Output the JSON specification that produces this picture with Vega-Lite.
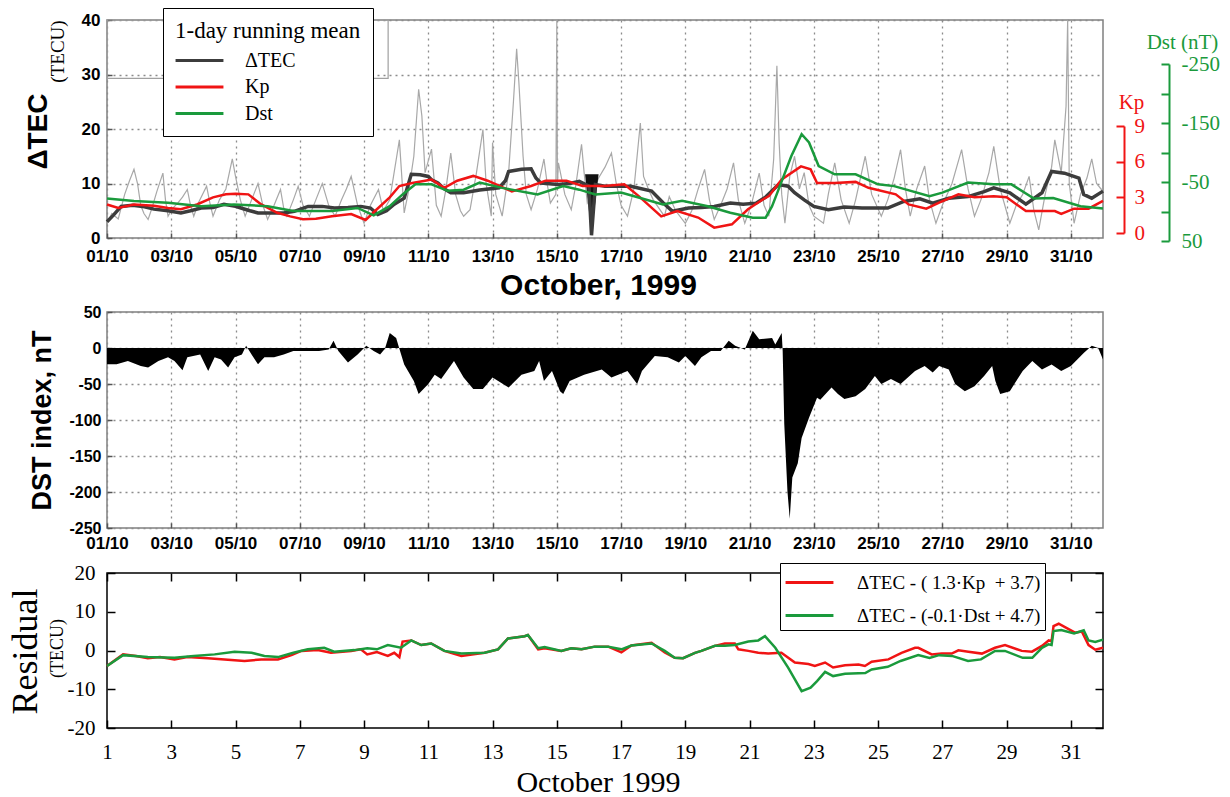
{
  "$schema": "https://vega.github.io/schema/vega-lite/v6.json",
  "background": "white",
  "padding": {"left": 6, "top": 6, "right": 4, "bottom": 2},
  "config": {
    "view": {"stroke": "#808080", "strokeWidth": 1.5, "fill": "white"},
    "axis": {"grid": false, "domain": false, "labelFlush": false, "labelOverlap": false, "labelBound": false, "labelColor": "black", "titleColor": "black", "tickColor": "#555555", "tickWidth": 1.5, "labelFont": "Liberation Sans", "labelFontWeight": "bold", "labelFontSize": 17, "titleFont": "Liberation Sans", "titleFontWeight": "bold", "gridColor": "#8c8c8c", "gridDash": [2, 4], "gridWidth": 1.3}
  },
  "datasets": {
    "box": [{"d": 1, "d2": 9.75, "v": 29.3, "v2": 40}],
    "tri": [{"d": 15.88, "top": 11.7, "bot": 11.7}, {"d": 16.08, "top": 11.7, "bot": 0.4}, {"d": 16.3, "top": 11.7, "bot": 11.7}],
    "hourly": [
      {"d":1.0,"v":2.7},{"d":1.15,"v":4.5},{"d":1.35,"v":3.5},{"d":1.55,"v":8.0},{"d":1.7,"v":10.5},{"d":1.84,"v":12.6},{"d":1.95,"v":10},{"d":2.05,"v":6},{"d":2.15,"v":4.5},{"d":2.28,"v":3.4},{"d":2.4,"v":5.5},{"d":2.55,"v":8.5},{"d":2.74,"v":11.9},{"d":2.82,"v":7},{"d":2.9,"v":4.0},{"d":3.05,"v":5.5},{"d":3.2,"v":6.4},{"d":3.35,"v":7.5},{"d":3.5,"v":8.9},{"d":3.6,"v":6},{"d":3.7,"v":4.0},{"d":3.85,"v":6.5},{"d":4.1,"v":9.5},{"d":4.2,"v":6.5},{"d":4.3,"v":4.0},{"d":4.5,"v":7},{"d":4.7,"v":9},{"d":4.9,"v":14.5},{"d":5.0,"v":11.3},{"d":5.15,"v":7},{"d":5.3,"v":4.0},{"d":5.5,"v":7},{"d":5.7,"v":10},{"d":5.85,"v":6},{"d":6.0,"v":3.4},{"d":6.2,"v":6},{"d":6.4,"v":8.9},{"d":6.5,"v":5.5},{"d":6.6,"v":4.0},{"d":6.8,"v":7},{"d":6.95,"v":9.5},{"d":7.1,"v":6},{"d":7.3,"v":4.0},{"d":7.5,"v":7},{"d":7.7,"v":10},{"d":7.9,"v":6},{"d":8.1,"v":4.0},{"d":8.3,"v":7},{"d":8.45,"v":9},{"d":8.6,"v":11.3},{"d":8.8,"v":6},{"d":9.0,"v":2.7},{"d":9.2,"v":6},{"d":9.45,"v":8.9},{"d":9.6,"v":5},{"d":9.8,"v":7},{"d":10.1,"v":18},{"d":10.25,"v":4.6},{"d":10.4,"v":9},{"d":10.55,"v":15},{"d":10.7,"v":27.3},{"d":10.8,"v":22.4},{"d":10.9,"v":12},{"d":11.1,"v":16.3},{"d":11.25,"v":6},{"d":11.4,"v":4.0},{"d":11.55,"v":9},{"d":11.7,"v":15.6},{"d":11.85,"v":8},{"d":12.0,"v":5},{"d":12.1,"v":4.0},{"d":12.3,"v":5.2},{"d":12.5,"v":12},{"d":12.7,"v":19.9},{"d":12.8,"v":10},{"d":12.96,"v":4.0},{"d":13.0,"v":17.5},{"d":13.1,"v":8},{"d":13.3,"v":4.0},{"d":13.5,"v":12},{"d":13.65,"v":25},{"d":13.75,"v":34.7},{"d":13.82,"v":28.5},{"d":13.95,"v":15},{"d":14.05,"v":8},{"d":14.2,"v":5.2},{"d":14.4,"v":9},{"d":14.6,"v":14.5},{"d":14.7,"v":10},{"d":14.8,"v":6.4},{"d":14.97,"v":8},{"d":15.0,"v":40},{"d":15.02,"v":10},{"d":15.05,"v":13.8},{"d":15.25,"v":8},{"d":15.45,"v":5.2},{"d":15.6,"v":10},{"d":15.77,"v":17.2},{"d":15.85,"v":12},{"d":15.95,"v":6.4},{"d":16.1,"v":8},{"d":16.3,"v":11},{"d":16.5,"v":13},{"d":16.7,"v":15.6},{"d":16.85,"v":10},{"d":17.0,"v":6},{"d":17.2,"v":4.0},{"d":17.4,"v":9},{"d":17.6,"v":21.1},{"d":17.7,"v":11.3},{"d":17.85,"v":9},{"d":18.0,"v":7},{"d":18.35,"v":4.0},{"d":18.5,"v":7.6},{"d":18.7,"v":5},{"d":19.0,"v":2.7},{"d":19.2,"v":5},{"d":19.4,"v":9},{"d":19.6,"v":12.6},{"d":19.75,"v":7},{"d":19.9,"v":3.4},{"d":20.1,"v":6},{"d":20.3,"v":9},{"d":20.5,"v":13.8},{"d":20.65,"v":7},{"d":20.85,"v":2.7},{"d":21.05,"v":6},{"d":21.3,"v":11.9},{"d":21.45,"v":6},{"d":21.6,"v":4.0},{"d":21.75,"v":14.5},{"d":21.85,"v":31.6},{"d":21.92,"v":17.5},{"d":22.0,"v":8},{"d":22.1,"v":2.7},{"d":22.25,"v":11.3},{"d":22.4,"v":15},{"d":22.55,"v":9},{"d":22.7,"v":12},{"d":22.85,"v":6},{"d":23.0,"v":4.0},{"d":23.3,"v":2.7},{"d":23.45,"v":8},{"d":23.65,"v":13.8},{"d":23.85,"v":7},{"d":24.1,"v":2.7},{"d":24.3,"v":7},{"d":24.6,"v":15},{"d":24.8,"v":8},{"d":25.1,"v":4.0},{"d":25.3,"v":7},{"d":25.5,"v":11},{"d":25.7,"v":16.2},{"d":25.85,"v":9},{"d":26.0,"v":4.0},{"d":26.2,"v":9},{"d":26.45,"v":13.2},{"d":26.6,"v":7},{"d":26.8,"v":2.7},{"d":27.0,"v":6},{"d":27.3,"v":10},{"d":27.6,"v":16.2},{"d":27.8,"v":9},{"d":28.0,"v":4.0},{"d":28.2,"v":7},{"d":28.45,"v":12},{"d":28.6,"v":16.8},{"d":28.8,"v":9},{"d":29.1,"v":2.7},{"d":29.3,"v":6},{"d":29.5,"v":8},{"d":29.7,"v":11.3},{"d":29.85,"v":5},{"d":30.0,"v":1.5},{"d":30.2,"v":8},{"d":30.4,"v":13},{"d":30.5,"v":18},{"d":30.7,"v":12},{"d":30.85,"v":24.2},{"d":30.9,"v":40},{"d":30.95,"v":10},{"d":31.1,"v":2.7},{"d":31.3,"v":8},{"d":31.5,"v":11},{"d":31.65,"v":14.5},{"d":31.8,"v":10},{"d":31.95,"v":8.9},{"d":32.0,"v":9}
    ],
    "tecm": [
      {"d":1.0,"v":3.0},{"d":1.2,"v":4.2},{"d":1.44,"v":5.8},{"d":1.8,"v":6.0},{"d":2.1,"v":5.8},{"d":2.46,"v":5.3},{"d":2.9,"v":5.0},{"d":3.3,"v":4.6},{"d":3.6,"v":5.0},{"d":3.93,"v":5.5},{"d":4.3,"v":5.6},{"d":4.64,"v":6.2},{"d":5.0,"v":5.8},{"d":5.17,"v":5.5},{"d":5.45,"v":5.0},{"d":5.7,"v":4.6},{"d":6.2,"v":4.6},{"d":6.5,"v":4.6},{"d":6.83,"v":4.9},{"d":7.26,"v":5.8},{"d":7.7,"v":5.8},{"d":8.08,"v":5.5},{"d":8.5,"v":5.6},{"d":8.9,"v":5.8},{"d":9.2,"v":5.5},{"d":9.43,"v":4.3},{"d":9.7,"v":5.0},{"d":9.94,"v":6.2},{"d":10.25,"v":7.3},{"d":10.47,"v":11.7},{"d":10.75,"v":11.6},{"d":11.0,"v":11.3},{"d":11.1,"v":10.7},{"d":11.3,"v":10.1},{"d":11.5,"v":9.0},{"d":11.7,"v":8.3},{"d":12.1,"v":8.3},{"d":12.6,"v":8.8},{"d":13.2,"v":9.2},{"d":13.4,"v":10.5},{"d":13.5,"v":12.2},{"d":13.9,"v":12.6},{"d":14.2,"v":12.7},{"d":14.35,"v":11},{"d":14.5,"v":10.1},{"d":15.05,"v":9.8},{"d":15.4,"v":10.0},{"d":15.7,"v":10.4},{"d":15.9,"v":9.8},{"d":16.0,"v":9.5},{"d":16.08,"v":0.5},{"d":16.2,"v":9.8},{"d":16.5,"v":9.5},{"d":17.3,"v":9.5},{"d":17.95,"v":8.6},{"d":18.3,"v":6.5},{"d":18.6,"v":4.9},{"d":19.1,"v":5.5},{"d":19.5,"v":5.6},{"d":19.9,"v":5.8},{"d":20.4,"v":6.4},{"d":20.8,"v":6.2},{"d":21.2,"v":6.4},{"d":21.5,"v":7.5},{"d":21.9,"v":9.8},{"d":22.2,"v":9.5},{"d":22.4,"v":8.3},{"d":22.7,"v":7.0},{"d":23.0,"v":5.8},{"d":23.45,"v":5.2},{"d":23.95,"v":5.7},{"d":24.5,"v":5.5},{"d":25.3,"v":5.5},{"d":25.8,"v":6.7},{"d":26.3,"v":7.2},{"d":26.7,"v":6.4},{"d":27.2,"v":7.3},{"d":27.8,"v":7.6},{"d":28.3,"v":8.5},{"d":28.6,"v":9.2},{"d":29.1,"v":8.3},{"d":29.6,"v":6.2},{"d":30.1,"v":8.3},{"d":30.4,"v":12.2},{"d":30.8,"v":11.9},{"d":31.25,"v":11.0},{"d":31.4,"v":8.0},{"d":31.65,"v":7.3},{"d":32.0,"v":8.6}
    ],
    "kp": [
      {"d":1.0,"v":2.4},{"d":1.35,"v":2.1},{"d":1.84,"v":2.4},{"d":2.46,"v":2.3},{"d":2.9,"v":2.1},{"d":3.3,"v":2.0},{"d":3.8,"v":2.4},{"d":4.3,"v":3.0},{"d":4.7,"v":3.25},{"d":5.0,"v":3.3},{"d":5.4,"v":3.25},{"d":5.8,"v":2.4},{"d":6.3,"v":1.7},{"d":6.7,"v":1.4},{"d":7.1,"v":1.15},{"d":7.5,"v":1.2},{"d":8.0,"v":1.4},{"d":8.6,"v":1.6},{"d":9.05,"v":1.1},{"d":9.4,"v":2.0},{"d":9.8,"v":3.0},{"d":10.1,"v":3.95},{"d":10.5,"v":4.2},{"d":10.9,"v":4.4},{"d":11.1,"v":4.5},{"d":11.5,"v":3.8},{"d":11.9,"v":4.4},{"d":12.4,"v":4.8},{"d":12.85,"v":4.4},{"d":13.6,"v":3.5},{"d":14.2,"v":3.95},{"d":14.65,"v":4.4},{"d":15.3,"v":4.4},{"d":15.8,"v":3.95},{"d":16.5,"v":3.95},{"d":17.1,"v":4.1},{"d":17.55,"v":3.1},{"d":18.25,"v":1.4},{"d":18.75,"v":1.85},{"d":19.4,"v":1.3},{"d":19.9,"v":0.45},{"d":20.45,"v":0.73},{"d":20.95,"v":2.0},{"d":21.4,"v":2.8},{"d":21.6,"v":3.1},{"d":22.0,"v":4.5},{"d":22.6,"v":5.6},{"d":22.9,"v":5.35},{"d":23.1,"v":4.2},{"d":23.65,"v":4.2},{"d":24.3,"v":4.3},{"d":24.7,"v":3.8},{"d":25.55,"v":3.25},{"d":25.95,"v":2.4},{"d":26.5,"v":2.05},{"d":26.9,"v":2.55},{"d":27.5,"v":3.25},{"d":28.0,"v":3.0},{"d":28.6,"v":3.1},{"d":29.0,"v":3.0},{"d":29.6,"v":1.85},{"d":30.5,"v":1.85},{"d":30.7,"v":1.6},{"d":31.1,"v":2.05},{"d":31.55,"v":2.05},{"d":32.0,"v":2.7}
    ],
    "dstm": [
      {"d":1.0,"v":-22},{"d":1.84,"v":-18},{"d":2.9,"v":-15},{"d":3.93,"v":-9},{"d":4.95,"v":-12},{"d":6.0,"v":-9},{"d":6.8,"v":-1},{"d":8.0,"v":-1},{"d":8.8,"v":-6},{"d":9.3,"v":6.5},{"d":9.8,"v":-9},{"d":10.2,"v":-29},{"d":10.6,"v":-46},{"d":11.1,"v":-46},{"d":11.6,"v":-35},{"d":12.1,"v":-37},{"d":12.6,"v":-49},{"d":13.3,"v":-40},{"d":14.4,"v":-29},{"d":15.2,"v":-43},{"d":15.7,"v":-37},{"d":16.2,"v":-29},{"d":17.0,"v":-32},{"d":17.6,"v":-23},{"d":18.3,"v":-12},{"d":18.9,"v":-18},{"d":19.7,"v":-9},{"d":20.4,"v":2},{"d":21.1,"v":10.5},{"d":21.5,"v":10.5},{"d":21.7,"v":-9},{"d":21.9,"v":-37},{"d":22.3,"v":-94},{"d":22.62,"v":-131},{"d":22.85,"v":-117},{"d":23.15,"v":-77},{"d":23.65,"v":-63},{"d":24.3,"v":-63},{"d":25.0,"v":-46},{"d":25.5,"v":-43},{"d":26.6,"v":-26},{"d":27.0,"v":-32},{"d":27.8,"v":-49},{"d":28.6,"v":-46},{"d":29.15,"v":-46},{"d":29.85,"v":-22},{"d":30.45,"v":-23},{"d":31.3,"v":-9},{"d":32.0,"v":-5}
    ],
    "dsth": [
      {"d":1.0,"v":-22.7},{"d":1.3,"v":-22.7},{"d":1.65,"v":-18},{"d":2.05,"v":-25},{"d":2.28,"v":-27},{"d":2.6,"v":-18},{"d":2.9,"v":-13},{"d":3.1,"v":-18},{"d":3.35,"v":-31},{"d":3.5,"v":-13},{"d":3.9,"v":-9},{"d":4.15,"v":-32},{"d":4.35,"v":-13},{"d":4.55,"v":-16},{"d":4.77,"v":-27},{"d":4.97,"v":-13},{"d":5.2,"v":-9},{"d":5.33,"v":3},{"d":5.5,"v":-9},{"d":5.7,"v":-22.7},{"d":5.9,"v":-13},{"d":6.2,"v":-13},{"d":6.5,"v":-9},{"d":6.8,"v":-4},{"d":7.0,"v":-4},{"d":7.6,"v":-4},{"d":7.9,"v":-2},{"d":8.05,"v":10},{"d":8.2,"v":-4},{"d":8.5,"v":-20},{"d":8.8,"v":-9},{"d":9.07,"v":3},{"d":9.3,"v":-4},{"d":9.5,"v":-9},{"d":9.65,"v":-1},{"d":9.8,"v":21},{"d":10.0,"v":14},{"d":10.1,"v":-1},{"d":10.25,"v":-23},{"d":10.55,"v":-46},{"d":10.7,"v":-64},{"d":11.0,"v":-50},{"d":11.2,"v":-37},{"d":11.4,"v":-43},{"d":11.8,"v":-18},{"d":12.1,"v":-41},{"d":12.4,"v":-57},{"d":12.7,"v":-57},{"d":13.0,"v":-41},{"d":13.5,"v":-55},{"d":13.9,"v":-37},{"d":14.3,"v":-32},{"d":14.45,"v":-18},{"d":14.6,"v":-46},{"d":14.85,"v":-32},{"d":15.1,"v":-60},{"d":15.2,"v":-64},{"d":15.4,"v":-46},{"d":15.85,"v":-37},{"d":16.4,"v":-30},{"d":16.7,"v":-41},{"d":17.2,"v":-32},{"d":17.5,"v":-50},{"d":17.65,"v":-32},{"d":18.05,"v":-11},{"d":18.45,"v":-13},{"d":18.8,"v":-20},{"d":19.0,"v":-11},{"d":19.3,"v":-25},{"d":19.5,"v":-13},{"d":19.8,"v":-4},{"d":20.1,"v":-4},{"d":20.35,"v":10},{"d":20.55,"v":3},{"d":20.85,"v":-2},{"d":21.1,"v":24},{"d":21.3,"v":12},{"d":21.7,"v":14},{"d":21.8,"v":5},{"d":22.0,"v":21},{"d":22.03,"v":-4},{"d":22.08,"v":-106},{"d":22.18,"v":-200},{"d":22.25,"v":-237},{"d":22.33,"v":-180},{"d":22.5,"v":-160},{"d":22.62,"v":-125},{"d":22.85,"v":-97},{"d":23.1,"v":-69},{"d":23.2,"v":-72},{"d":23.55,"v":-55},{"d":23.75,"v":-64},{"d":23.95,"v":-71},{"d":24.3,"v":-67},{"d":24.6,"v":-57},{"d":24.9,"v":-39},{"d":25.1,"v":-50},{"d":25.4,"v":-43},{"d":25.7,"v":-50},{"d":26.15,"v":-32},{"d":26.45,"v":-25},{"d":26.7,"v":-34},{"d":26.9,"v":-25},{"d":27.2,"v":-30},{"d":27.4,"v":-50},{"d":27.7,"v":-60},{"d":28.0,"v":-53},{"d":28.3,"v":-39},{"d":28.55,"v":-25},{"d":28.65,"v":-46},{"d":28.8,"v":-64},{"d":29.1,"v":-60},{"d":29.3,"v":-46},{"d":29.5,"v":-32},{"d":29.8,"v":-18},{"d":30.1,"v":-30},{"d":30.4,"v":-23},{"d":30.7,"v":-32},{"d":31.0,"v":-25},{"d":31.2,"v":-16},{"d":31.4,"v":-7},{"d":31.65,"v":3},{"d":31.85,"v":0},{"d":32.0,"v":-16}
    ],
    "resid": [
      {"s":"kp","d":1.0,"v":-4.0},{"s":"kp","d":1.5,"v":-1.0},{"s":"kp","d":1.9,"v":-1.4},{"s":"kp","d":2.27,"v":-2.0},{"s":"kp","d":2.65,"v":-1.7},{"s":"kp","d":3.1,"v":-2.3},{"s":"kp","d":3.5,"v":-1.7},{"s":"kp","d":4.14,"v":-2.0},{"s":"kp","d":4.97,"v":-2.5},{"s":"kp","d":5.28,"v":-2.7},{"s":"kp","d":5.8,"v":-2.3},{"s":"kp","d":6.32,"v":-2.3},{"s":"kp","d":6.74,"v":-1.2},{"s":"kp","d":7.05,"v":-0.1},{"s":"kp","d":7.56,"v":0.1},{"s":"kp","d":7.97,"v":-0.6},{"s":"kp","d":8.6,"v":-0.1},{"s":"kp","d":8.9,"v":0.3},{"s":"kp","d":9.1,"v":-1.0},{"s":"kp","d":9.4,"v":-0.4},{"s":"kp","d":9.74,"v":-1.4},{"s":"kp","d":9.94,"v":-0.6},{"s":"kp","d":10.1,"v":-1.7},{"s":"kp","d":10.2,"v":2.3},{"s":"kp","d":10.47,"v":2.6},{"s":"kp","d":10.78,"v":1.4},{"s":"kp","d":11.09,"v":1.8},{"s":"kp","d":11.5,"v":-0.1},{"s":"kp","d":12.03,"v":-1.4},{"s":"kp","d":12.75,"v":-0.6},{"s":"kp","d":13.17,"v":0.3},{"s":"kp","d":13.48,"v":3.1},{"s":"kp","d":14.0,"v":3.7},{"s":"kp","d":14.1,"v":4.0},{"s":"kp","d":14.42,"v":0.3},{"s":"kp","d":14.62,"v":0.6},{"s":"kp","d":15.14,"v":-0.1},{"s":"kp","d":15.45,"v":0.6},{"s":"kp","d":15.77,"v":0.3},{"s":"kp","d":16.18,"v":1.0},{"s":"kp","d":16.6,"v":1.0},{"s":"kp","d":17.01,"v":-0.5},{"s":"kp","d":17.32,"v":1.3},{"s":"kp","d":17.95,"v":2.0},{"s":"kp","d":18.36,"v":-0.5},{"s":"kp","d":18.67,"v":-1.9},{"s":"kp","d":18.93,"v":-2.0},{"s":"kp","d":19.3,"v":-0.6},{"s":"kp","d":19.5,"v":-0.1},{"s":"kp","d":19.92,"v":1.2},{"s":"kp","d":20.23,"v":1.8},{"s":"kp","d":20.54,"v":1.8},{"s":"kp","d":20.65,"v":0.3},{"s":"kp","d":20.96,"v":-0.1},{"s":"kp","d":21.27,"v":-0.6},{"s":"kp","d":21.58,"v":-0.8},{"s":"kp","d":21.99,"v":-0.6},{"s":"kp","d":22.41,"v":-3.1},{"s":"kp","d":22.83,"v":-3.5},{"s":"kp","d":23.03,"v":-4.0},{"s":"kp","d":23.35,"v":-3.1},{"s":"kp","d":23.6,"v":-4.4},{"s":"kp","d":23.97,"v":-3.8},{"s":"kp","d":24.39,"v":-3.6},{"s":"kp","d":24.59,"v":-4.0},{"s":"kp","d":24.8,"v":-2.9},{"s":"kp","d":25.32,"v":-2.3},{"s":"kp","d":25.73,"v":-0.6},{"s":"kp","d":26.15,"v":0.7},{"s":"kp","d":26.25,"v":0.7},{"s":"kp","d":26.67,"v":-1.0},{"s":"kp","d":26.98,"v":-0.8},{"s":"kp","d":27.29,"v":-0.8},{"s":"kp","d":27.5,"v":0.05},{"s":"kp","d":27.81,"v":-0.3},{"s":"kp","d":28.23,"v":-0.8},{"s":"kp","d":28.64,"v":0.7},{"s":"kp","d":28.95,"v":1.4},{"s":"kp","d":29.47,"v":-0.1},{"s":"kp","d":29.79,"v":-0.3},{"s":"kp","d":30.1,"v":1.2},{"s":"kp","d":30.31,"v":2.6},{"s":"kp","d":30.4,"v":2.4},{"s":"kp","d":30.46,"v":6.3},{"s":"kp","d":30.62,"v":6.9},{"s":"kp","d":31.13,"v":4.6},{"s":"kp","d":31.34,"v":4.9},{"s":"kp","d":31.55,"v":1.4},{"s":"kp","d":31.76,"v":0.2},{"s":"kp","d":32.0,"v":0.7},
      {"s":"dst","d":1.0,"v":-4.0},{"s":"dst","d":1.5,"v":-1.2},{"s":"dst","d":2.27,"v":-1.7},{"s":"dst","d":3.1,"v":-1.9},{"s":"dst","d":3.7,"v":-1.4},{"s":"dst","d":4.35,"v":-1.0},{"s":"dst","d":4.97,"v":-0.3},{"s":"dst","d":5.5,"v":-0.6},{"s":"dst","d":5.9,"v":-1.4},{"s":"dst","d":6.32,"v":-1.7},{"s":"dst","d":6.8,"v":-0.6},{"s":"dst","d":7.25,"v":0.3},{"s":"dst","d":7.76,"v":0.7},{"s":"dst","d":8.07,"v":-0.3},{"s":"dst","d":8.7,"v":0.1},{"s":"dst","d":9.1,"v":0.6},{"s":"dst","d":9.4,"v":0.3},{"s":"dst","d":9.74,"v":1.4},{"s":"dst","d":10.15,"v":0.7},{"s":"dst","d":10.47,"v":2.6},{"s":"dst","d":10.78,"v":1.4},{"s":"dst","d":11.09,"v":1.8},{"s":"dst","d":11.5,"v":-0.1},{"s":"dst","d":12.03,"v":-0.8},{"s":"dst","d":12.75,"v":-0.6},{"s":"dst","d":13.17,"v":0.3},{"s":"dst","d":13.48,"v":3.1},{"s":"dst","d":14.0,"v":3.7},{"s":"dst","d":14.1,"v":4.0},{"s":"dst","d":14.42,"v":0.6},{"s":"dst","d":14.62,"v":0.9},{"s":"dst","d":15.14,"v":-0.1},{"s":"dst","d":15.45,"v":0.6},{"s":"dst","d":15.77,"v":0.3},{"s":"dst","d":16.18,"v":1.0},{"s":"dst","d":16.6,"v":1.0},{"s":"dst","d":17.01,"v":0.3},{"s":"dst","d":17.32,"v":1.3},{"s":"dst","d":17.95,"v":1.8},{"s":"dst","d":18.36,"v":-0.1},{"s":"dst","d":18.67,"v":-1.9},{"s":"dst","d":18.93,"v":-2.0},{"s":"dst","d":19.3,"v":-0.6},{"s":"dst","d":19.5,"v":-0.1},{"s":"dst","d":19.92,"v":1.2},{"s":"dst","d":20.23,"v":1.2},{"s":"dst","d":20.54,"v":1.4},{"s":"dst","d":20.96,"v":2.3},{"s":"dst","d":21.27,"v":2.6},{"s":"dst","d":21.48,"v":3.7},{"s":"dst","d":21.8,"v":0.7},{"s":"dst","d":22.2,"v":-4.4},{"s":"dst","d":22.62,"v":-10.5},{"s":"dst","d":22.9,"v":-9.6},{"s":"dst","d":23.1,"v":-7.9},{"s":"dst","d":23.35,"v":-5.5},{"s":"dst","d":23.6,"v":-6.6},{"s":"dst","d":23.97,"v":-6.0},{"s":"dst","d":24.6,"v":-5.8},{"s":"dst","d":24.8,"v":-4.9},{"s":"dst","d":25.3,"v":-4.2},{"s":"dst","d":25.7,"v":-2.7},{"s":"dst","d":26.25,"v":-1.2},{"s":"dst","d":26.6,"v":-1.9},{"s":"dst","d":26.9,"v":-1.2},{"s":"dst","d":27.3,"v":-1.4},{"s":"dst","d":27.8,"v":-2.7},{"s":"dst","d":28.2,"v":-2.3},{"s":"dst","d":28.64,"v":-0.1},{"s":"dst","d":28.95,"v":-0.1},{"s":"dst","d":29.5,"v":-1.9},{"s":"dst","d":29.8,"v":-1.9},{"s":"dst","d":30.1,"v":0.7},{"s":"dst","d":30.3,"v":1.6},{"s":"dst","d":30.4,"v":1.4},{"s":"dst","d":30.46,"v":5.0},{"s":"dst","d":30.7,"v":5.3},{"s":"dst","d":31.1,"v":4.4},{"s":"dst","d":31.4,"v":5.2},{"s":"dst","d":31.55,"v":2.6},{"s":"dst","d":31.76,"v":2.2},{"s":"dst","d":32.0,"v":2.8}
    ]
  },
  "spacing": 9,
  "resolve": {"scale": {"color": "independent", "x": "independent", "y": "independent"}},
  "vconcat": [
    {
      "bounds": "flush",
      "spacing": 74,
      "resolve": {"scale": {"color": "independent", "x": "independent", "y": "independent"}},
      "vconcat": [
        {
          "width": 996,
          "height": 218,
          "resolve": {"scale": {"y": "independent"}},
          "layer": [
            {
              "resolve": {"scale": {"y": "shared"}, "axis": {"y": "independent"}},
              "layer": [
                {
                  "data": {"name": "box"},
                  "mark": {"type": "rect", "fillOpacity": 0, "stroke": "#a0a0a0", "strokeWidth": 1.2},
                  "encoding": {
                    "x": {"field": "d", "type": "quantitative", "scale": {"domain": [1, 32], "nice": false, "zero": false},
                      "axis": {"values": [1,3,5,7,9,11,13,15,17,19,21,23,25,27,29,31], "grid": true, "labelOverlap": false, "labelExpr": "(datum.value < 10 ? '0' : '') + datum.value + '/10'", "tickSize": -5, "labelPadding": 15, "title": "October, 1999", "titleFontSize": 30, "titleX": 491, "titleY": 47, "titleAlign": "center", "titleBaseline": "middle"}},
                    "x2": {"field": "d2"},
                    "y": {"field": "v", "type": "quantitative", "scale": {"domain": [0, 40], "nice": false, "zero": false},
                      "axis": {"orient": "left", "values": [0,10,20,30,40], "grid": true, "labelOverlap": false, "tickSize": -5, "labelPadding": 12, "title": "ΔTEC", "titleFontSize": 28, "titleAngle": 270, "titleX": -69, "titleY": 111, "titleAlign": "center", "titleBaseline": "middle"}},
                    "y2": {"field": "v2"}
                  }
                },
                {
                  "data": {"name": "hourly"},
                  "mark": {"type": "line", "color": "#a8a8a8", "strokeWidth": 1.2, "clip": true},
                  "encoding": {
                    "x": {"field": "d", "type": "quantitative"},
                    "y": {"field": "v", "type": "quantitative",
                      "axis": {"orient": "left", "labels": false, "ticks": false, "domain": false, "grid": false, "title": "(TECU)", "titleFont": "Liberation Serif", "titleFontWeight": "normal", "titleFontSize": 19, "titleAngle": 270, "titleX": -50, "titleY": 31, "titleAlign": "center", "titleBaseline": "middle"}}
                  }
                },
                {
                  "data": {"name": "tri"},
                  "mark": {"type": "area", "color": "#111111", "orient": "vertical"},
                  "encoding": {
                    "x": {"field": "d", "type": "quantitative"},
                    "y": {"field": "top", "type": "quantitative", "axis": null},
                    "y2": {"field": "bot"}
                  }
                },
                {
                  "data": {"name": "tecm"},
                  "mark": {"type": "line", "strokeWidth": 3.5},
                  "encoding": {
                    "x": {"field": "d", "type": "quantitative"},
                    "y": {"field": "v", "type": "quantitative", "axis": null},
                    "color": {"datum": "ΔTEC", "type": "nominal",
                      "scale": {"domain": ["ΔTEC", "Kp", "Dst"], "range": ["#3c3c3c", "#f01414", "#1a9a3c"]},
                      "legend": {"title": "1-day running mean", "titleLimit": 400, "labelLimit": 300, "orient": "none", "legendX": 56, "legendY": -12, "direction": "vertical", "fillColor": "white", "strokeColor": "black", "padding": 12, "titleFont": "Liberation Serif", "titleFontSize": 23, "titleFontWeight": "normal", "titleColor": "black", "titlePadding": 2, "labelFont": "Liberation Serif", "labelFontSize": 20, "labelColor": "black", "symbolType": "M-1.71,0H1.71", "symbolStrokeWidth": 3, "symbolSize": 784, "symbolOffset": 9, "rowPadding": 0.5, "labelOffset": 30}}
                  }
                },
                {
                  "mark": {"type": "text", "font": "Liberation Serif", "fontSize": 28, "align": "center", "baseline": "middle", "color": "black"},
                  "encoding": {
                    "x": {"datum": 1.87, "type": "quantitative"},
                    "y": {"datum": 34.3, "type": "quantitative", "axis": null},
                    "text": {"value": "(a)"}
                  }
                }
              ]
            },
            {
              "data": {"name": "kp"},
              "mark": {"type": "line", "strokeWidth": 2.5},
              "encoding": {
                "x": {"field": "d", "type": "quantitative"},
                "y": {"field": "v", "type": "quantitative", "scale": {"domain": [0, 9], "range": [213, 106], "nice": false, "zero": false},
                  "axis": {"orient": "right", "offset": 21, "values": [0,3,6,9], "labelOverlap": false, "domain": true, "domainColor": "#f01414", "domainWidth": 2, "tickColor": "#f01414", "tickWidth": 2, "tickSize": -8, "labelPadding": 18, "labelColor": "#f01414", "labelFont": "Liberation Serif", "labelFontWeight": "normal", "labelFontSize": 21, "title": "Kp", "titleColor": "#f01414", "titleFont": "Liberation Serif", "titleFontWeight": "normal", "titleFontSize": 21, "titleAngle": 0, "titleX": 7, "titleY": 82, "titleAlign": "center", "titleBaseline": "middle"}},
                "color": {"datum": "Kp", "type": "nominal"}
              }
            },
            {
              "data": {"name": "dstm"},
              "mark": {"type": "line", "strokeWidth": 2.5},
              "encoding": {
                "x": {"field": "d", "type": "quantitative"},
                "y": {"field": "v", "type": "quantitative", "scale": {"domain": [-250, 50], "range": [44, 221], "nice": false, "zero": false},
                  "axis": {"orient": "right", "offset": 66, "values": [-250,-200,-150,-100,-50,0,50], "labelOverlap": false, "labelExpr": "datum.value == -250 ? '-250' : datum.value == -150 ? '-150' : datum.value == -50 ? '-50' : datum.value == 50 ? '50' : ''", "domain": true, "domainColor": "#1a9a3c", "domainWidth": 2, "tickColor": "#1a9a3c", "tickWidth": 2, "tickSize": -8, "labelPadding": 20, "labelColor": "#1a9a3c", "labelFont": "Liberation Serif", "labelFontWeight": "normal", "labelFontSize": 21, "title": "Dst (nT)", "titleColor": "#1a9a3c", "titleFont": "Liberation Serif", "titleFontWeight": "normal", "titleFontSize": 21, "titleAngle": 0, "titleX": 13, "titleY": 22, "titleAlign": "center", "titleBaseline": "middle"}},
                "color": {"datum": "Dst", "type": "nominal"}
              }
            }
          ]
        },
        {
          "width": 996,
          "height": 216,
          "resolve": {"axis": {"y": "independent"}},
          "layer": [
            {
              "data": {"name": "dsth"},
              "mark": {"type": "area", "color": "black"},
              "encoding": {
                "x": {"field": "d", "type": "quantitative", "scale": {"domain": [1, 32], "nice": false, "zero": false},
                  "axis": {"values": [1,3,5,7,9,11,13,15,17,19,21,23,25,27,29,31], "grid": true, "labelOverlap": false, "labelExpr": "(datum.value < 10 ? '0' : '') + datum.value + '/10'", "tickSize": -5, "labelPadding": 12, "title": null}},
                "y": {"field": "v", "type": "quantitative", "scale": {"domain": [-250, 50], "nice": false, "zero": false},
                  "axis": {"values": [-250,-200,-150,-100,-50,0,50], "labelOverlap": false, "labelSeparation": 0, "labelFontSize": 16, "labelExpr": "datum.value < 0 ? '-' + abs(datum.value) : datum.value + ''", "grid": true, "tickSize": -5, "labelPadding": 11, "title": "DST index, nT", "titleFontSize": 27, "titleAngle": 270, "titleX": -65, "titleY": 108, "titleAlign": "center", "titleBaseline": "middle"}},
                "y2": {"datum": 0}
              }
            },
            {
              "mark": {"type": "rule", "color": "black", "strokeWidth": 1.5},
              "encoding": {"y": {"datum": 0, "type": "quantitative", "axis": null}}
            },
            {
              "mark": {"type": "text", "font": "Liberation Serif", "fontSize": 28, "align": "center", "baseline": "middle", "color": "black"},
              "encoding": {
                "x": {"datum": 1.84, "type": "quantitative"},
                "y": {"datum": 23.6, "type": "quantitative", "axis": null},
                "text": {"value": "(b)"}
              }
            }
          ]
        }
      ]
    },
    {
      "width": 996,
      "height": 155,
      "view": {"stroke": "black", "strokeWidth": 1.5},
      "resolve": {"axis": {"x": "independent", "y": "independent"}},
      "layer": [
        {
          "data": {"name": "resid"},
          "mark": {"type": "line", "strokeWidth": 2.5},
          "encoding": {
            "x": {"field": "d", "type": "quantitative", "scale": {"domain": [1, 32], "nice": false, "zero": false},
              "axis": {"orient": "bottom", "values": [1,3,5,7,9,11,13,15,17,19,21,23,25,27,29,31], "labelOverlap": false, "tickSize": -8, "tickColor": "black", "labelPadding": 21, "labelFont": "Liberation Serif", "labelFontWeight": "normal", "labelFontSize": 21, "title": "October 1999", "titleFont": "Liberation Serif", "titleFontWeight": "normal", "titleFontSize": 30, "titleX": 491, "titleY": 54, "titleAlign": "center", "titleBaseline": "middle"}},
            "y": {"field": "v", "type": "quantitative", "scale": {"domain": [-20, 20], "nice": false, "zero": false},
              "axis": {"orient": "left", "values": [-20,-10,0,10,20], "labelOverlap": false, "labelExpr": "'' + datum.value", "tickSize": -8, "tickColor": "black", "labelPadding": 20, "labelFont": "Liberation Serif", "labelFontWeight": "normal", "labelFontSize": 21, "title": "Residual", "titleFont": "Liberation Serif", "titleFontWeight": "normal", "titleFontSize": 36, "titleAngle": 270, "titleX": -82, "titleY": 78, "titleAlign": "center", "titleBaseline": "middle"}},
            "color": {"field": "s", "type": "nominal",
              "scale": {"domain": ["kp", "dst"], "range": ["#f01414", "#1a9a3c"]},
              "legend": {"title": null, "orient": "none", "legendX": 673, "legendY": -10, "direction": "vertical", "fillColor": "white", "strokeColor": "black", "padding": 4, "labelFont": "Liberation Serif", "labelFontSize": 19, "labelColor": "black", "labelLimit": 400, "symbolType": "M-1.71,0H1.71", "symbolStrokeWidth": 3, "symbolSize": 784, "symbolOffset": 10, "rowPadding": 7, "labelOffset": 32,
                "labelExpr": "datum.value == 'kp' ? 'ΔTEC - (\u00a01.3·Kp\u00a0\u00a0+ 3.7)' : 'ΔTEC - (-0.1·Dst + 4.7)'"}}
          }
        },
        {
          "mark": {"type": "rule", "color": "#333333", "strokeWidth": 1, "strokeDash": [6, 4]},
          "encoding": {
            "y": {"datum": 0, "type": "quantitative",
              "axis": {"orient": "left", "labels": false, "ticks": false, "domain": false, "title": "(TECU)", "titleFont": "Liberation Serif", "titleFontWeight": "normal", "titleFontSize": 18, "titleAngle": 270, "titleX": -50, "titleY": 75, "titleAlign": "center", "titleBaseline": "middle"}}
          }
        },
        {
          "mark": {"type": "text", "font": "Liberation Serif", "fontSize": 28, "align": "center", "baseline": "middle", "color": "black"},
          "encoding": {
            "x": {"datum": 1.84, "type": "quantitative",
              "axis": {"orient": "top", "values": [1,3,5,7,9,11,13,15,17,19,21,23,25,27,29,31], "labels": false, "tickSize": -8, "tickColor": "black", "title": null}},
            "y": {"datum": 13.3, "type": "quantitative",
              "axis": {"orient": "right", "values": [-20,-10,0,10,20], "labels": false, "tickSize": -8, "tickColor": "black", "title": null}},
            "text": {"value": "(c)"}
          }
        }
      ]
    }
  ]
}
